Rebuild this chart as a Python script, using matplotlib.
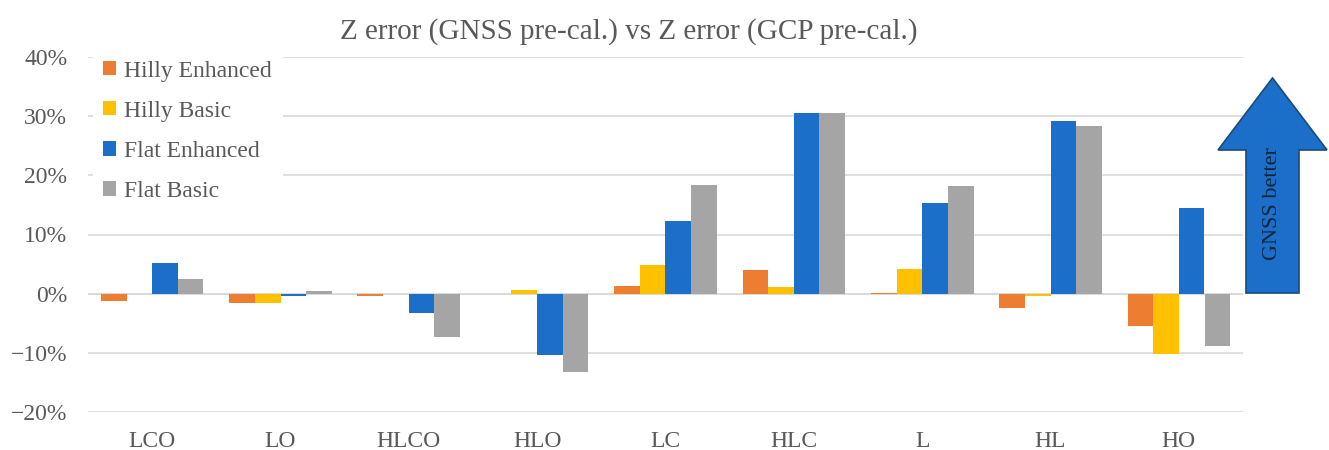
import matplotlib
matplotlib.use("Agg")
import matplotlib.pyplot as plt
import numpy as np
from matplotlib.patches import Polygon
from matplotlib.ticker import FuncFormatter

categories = ["LCO", "LO", "HLCO", "HLO", "LC", "HLC", "L", "HL", "HO"]
hilly_enhanced = [-1.3, -1.6, -0.4, 0.0, 1.3, 4.0, 0.1, -2.5, -5.5]
hilly_basic = [0.0, -1.5, -0.1, 0.7, 4.9, 1.1, 4.2, -0.4, -10.2]
flat_enhanced = [5.2, -0.4, -3.2, -10.3, 12.2, 30.5, 15.3, 29.2, 14.5]
flat_basic = [2.4, 0.5, -7.4, -13.3, 18.4, 30.5, 18.2, 28.4, -8.8]
series_names = ["Hilly Enhanced", "Hilly Basic", "Flat Enhanced", "Flat Basic"]
yticks = [-20, -10, 0, 10, 20, 30, 40]

colors = ["#ED7D31", "#FFC000", "#1B6FC8", "#A5A5A5"]
txt = "#595959"
plt.rcParams['font.family'] = ['Liberation Serif', 'DejaVu Serif']

W, H = 1329, 450
fig = plt.figure(figsize=(W / 100, H / 100), dpi=100)
ax = fig.add_axes([88 / W, 1 - 412 / H, (1243 - 88) / W, (412 - 57) / H])

x = np.arange(len(categories))
bw = 0.2
data = [hilly_enhanced, hilly_basic, flat_enhanced, flat_basic]
for i, (vals, name, c) in enumerate(zip(data, series_names, colors)):
    ax.bar(x + (i - 1.5) * bw, vals, bw, color=c, label=name, zorder=3)

ax.set_xlim(-0.5, len(categories) - 0.5)
ax.set_ylim(-20, 40)
ax.set_yticks(yticks)
ax.yaxis.set_major_formatter(FuncFormatter(lambda v, p: f"{int(v)}%".replace("-", "\u2212")))
ax.set_xticks(x)
ax.set_xticklabels(categories)
ax.grid(axis='y', color="#D9D9D9", linewidth=1.2, zorder=0)
ax.axhline(0, color="#D9D9D9", linewidth=1.2, zorder=2)
for s in ax.spines.values():
    s.set_visible(False)
ax.tick_params(axis='both', length=0, labelsize=17, labelcolor=txt)
ax.tick_params(axis='y', pad=15)
ax.tick_params(axis='x', pad=14)

leg = ax.legend(loc='upper left', bbox_to_anchor=(0.004, 1.02), frameon=True,
                facecolor='white', edgecolor='none', framealpha=1.0, fancybox=False,
                fontsize=17, labelcolor=txt, handlelength=0.55, handleheight=0.55,
                handletextpad=0.35, labelspacing=0.81, borderaxespad=0.0, borderpad=0.45)
leg.set_zorder(5)

fig.text(629 / W, 1 - 32 / H, "Z error (GNSS pre-cal.) vs Z error (GCP pre-cal.)",
         ha='center', va='center', fontsize=21, color=txt)

# "GNSS better" arrow decoration (figure pixel coordinates)
def fp(px, py):
    return (px / W, 1 - py / H)

pts = [fp(1246, 293), fp(1299, 293), fp(1299, 150), fp(1327, 150),
       fp(1272.5, 78), fp(1218, 150), fp(1246, 150)]
fig.patches.append(Polygon(pts, closed=True, transform=fig.transFigure,
                           facecolor="#1B6FC8", edgecolor="#1A4A7A", linewidth=1.2))
fig.text(1272.5 / W, 1 - 204 / H, "GNSS better", rotation=90, ha='center', va='center',
         fontsize=16, color="#0D2440", family=['Liberation Serif', 'DejaVu Serif'])

fig.savefig("out.png", dpi=100)
